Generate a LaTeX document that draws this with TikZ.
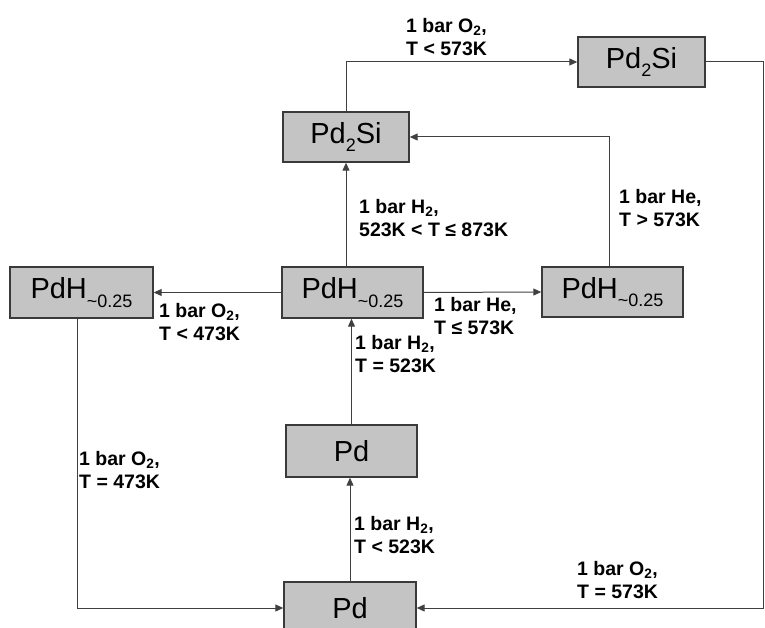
\documentclass[tikz,border=0pt]{standalone}
\usepackage{fontspec}
\setmainfont{Liberation Sans}
\usetikzlibrary{arrows.meta,calc}
\definecolor{boxfill}{HTML}{C4C4C4}
\definecolor{boxline}{HTML}{3A3A3A}
\definecolor{conn}{HTML}{404040}
\newcommand{\boxsub}[1]{\raisebox{-0.3em}{\fontsize{18}{18}\selectfont #1}}
\tikzset{
  cbox/.style={draw=boxline, line width=1.4pt, fill=boxfill, inner sep=0pt,
    font=\fontsize{29}{29}\selectfont},
  conn/.style={draw=conn, line width=1pt, -{Triangle[length=8pt,width=7pt]}},
  plain/.style={draw=conn, line width=1pt},
  lab/.style={align=left, anchor=west, inner sep=0pt,
    font=\bfseries\fontsize{19.5}{23.5}\selectfont}
}
\begin{document}
\begin{tikzpicture}[x=1pt,y=-1pt]
\useasboundingbox (0,0) rectangle (765,628);
% boxes
\node[cbox, minimum width=127pt, minimum height=50pt] (P2) at (641.5,62) {Pd\boxsub{2}Si};
\node[cbox, minimum width=126pt, minimum height=50pt] (S) at (346,137) {Pd\boxsub{2}Si};
\node[cbox, minimum width=143pt, minimum height=51pt] (HL) at (81.5,292.5) {PdH\boxsub{\textasciitilde0.25}};
\node[cbox, minimum width=141pt, minimum height=51pt] (HM) at (352.5,292.5) {PdH\boxsub{\textasciitilde0.25}};
\node[cbox, minimum width=141pt, minimum height=50pt] (HR) at (612.5,292) {PdH\boxsub{\textasciitilde0.25}};
\node[cbox, minimum width=131pt, minimum height=52pt] (PM) at (351.5,451) {Pd};
\node[cbox, minimum width=132pt, minimum height=52pt] (PB) at (350,608) {Pd};
% corner coordinates
\coordinate (rc) at (763.5,62);
\coordinate (lc) at (77,318.5);
% connectors
\draw[conn] (PB.north) -- (PB.north |- PM.south);
\draw[conn] (PM.north) -- (PM.north |- HM.south);
\draw[conn] (S.south |- HM.north) -- (S.south);
\draw[conn] (S.north) |- (P2.west);
\draw[conn] ([xshift=-3.5pt]HR.north) |- (S.east);
\draw[conn] (HM.east) -- (HR.west);
\draw[conn] (HM.west) -- (HL.east);
\draw[conn] (lc) |- (PB.west);
\draw[plain] (P2.east) -- (rc);
\draw[conn] (rc) |- (PB.east);
% labels
\node[lab] (l1) at (406,37) {1 bar O\textsubscript{2},\\T < 573K};
\node[lab] (l2) at (359,218) {1 bar H\textsubscript{2},\\523K < T ≤ 873K};
\node[lab] (l3) at (619,208) {1 bar He,\\T > 573K};
\node[lab] (l4) at (159,322) {1 bar O\textsubscript{2},\\T < 473K};
\node[lab] (l5) at (434,316) {1 bar He,\\T ≤ 573K};
\node[lab] (l6) at (355,354) {1 bar H\textsubscript{2},\\T = 523K};
\node[lab] (l7) at (79,470) {1 bar O\textsubscript{2},\\T = 473K};
\node[lab] (l8) at (354,535) {1 bar H\textsubscript{2},\\T < 523K};
\node[lab] (l9) at (577,580) {1 bar O\textsubscript{2},\\T = 573K};
\end{tikzpicture}
\end{document}
